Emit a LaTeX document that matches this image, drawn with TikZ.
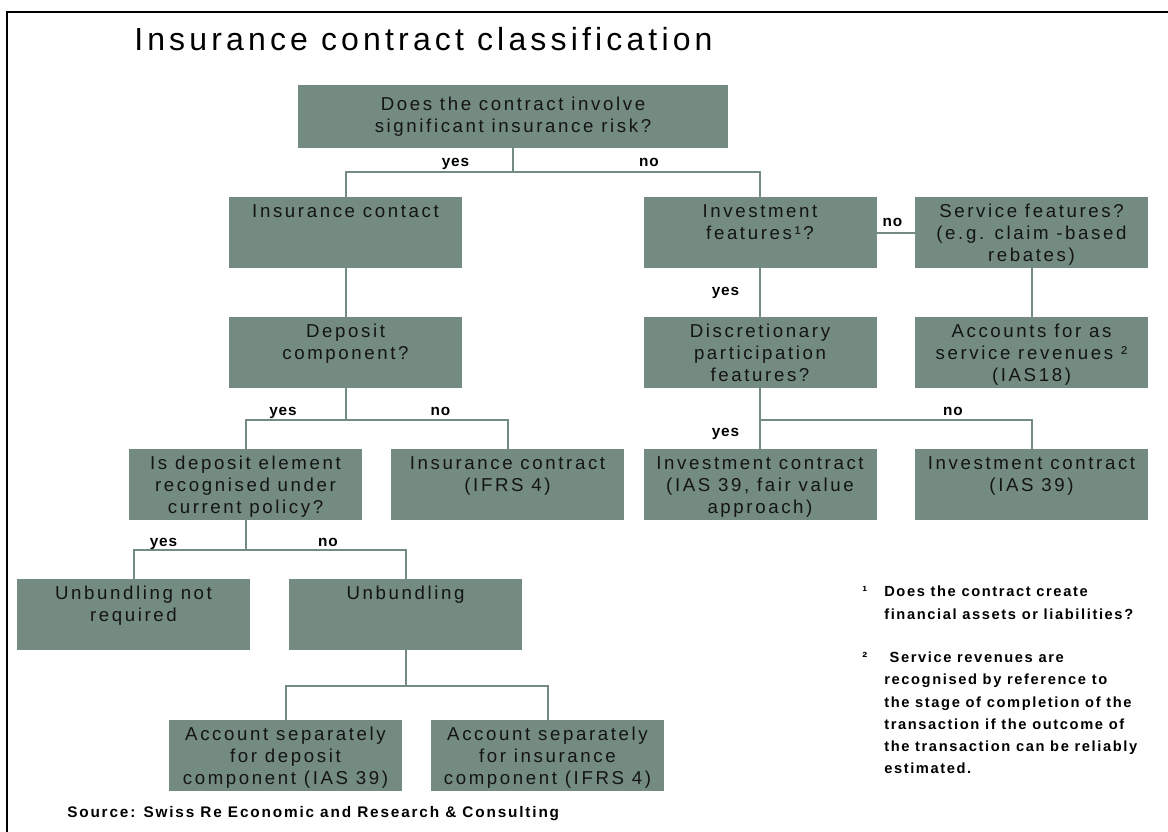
\documentclass[tikz,border=0pt]{standalone}
\usepackage{fontspec}
\usepackage{tikz}
\usetikzlibrary{positioning, calc}
\setmainfont{Liberation Sans}
\newfontfamily\boxfont[LetterSpace=14]{Liberation Sans}
\newfontfamily\titlefont[LetterSpace=13]{Liberation Sans}
\newfontfamily\labelfont[LetterSpace=6]{Liberation Sans}
\newfontfamily\notefont[LetterSpace=11]{Liberation Sans}
\newfontfamily\sourcefont[LetterSpace=12]{Liberation Sans}
\definecolor{sage}{HTML}{738B80}
\definecolor{inkdark}{HTML}{141414}
\tikzset{
  box/.style={fill=sage, minimum width=174.75pt, minimum height=53.25pt, inner sep=0pt, align=center, text=inkdark, font=\boxfont\fontsize{14}{16.5}\selectfont},
  boxtext/.style={anchor=base, inner sep=0pt, align=center, text=inkdark, font=\boxfont\fontsize{14}{16.5}\selectfont},
  link/.style={draw=sage, line width=1.5pt},
  answer/.style={anchor=base, inner sep=0pt, font=\labelfont\bfseries\fontsize{11.5}{13}\selectfont},
  note/.style={anchor=base west, inner sep=0pt, align=left, font=\notefont\bfseries\fontsize{11}{16.6}\selectfont},
}
\begin{document}
\begin{tikzpicture}[x=0.75pt, y=-0.75pt]
  \useasboundingbox (0,0) rectangle (1168,832);
  \draw[line width=1.5pt] (7,832) -- (7,12) -- (1168,12);

  \node[anchor=base west, inner sep=0pt, font=\titlefont\fontsize{24}{28}\selectfont] (title) at (134,50) {Insurance contract classification};

  % decision boxes
  \node[box, minimum width=322.5pt, minimum height=47.25pt] (risk) at (513,116.5) {Does the contract involve\\significant insurance risk?};
  \node[box] (insc) at (345.5,232.5) {};
  \node[box] (inv) at (760,232.5) {};
  \node[box] (serv) at (1031.5,232.5) {};
  \node[box] (dep) at (345.5,352.5) {};
  \node[box] (disc) at (760,352.5) {};
  \node[box] (svcrev) at (1031.5,352.5) {};
  \node[box] (isdep) at (245.5,484.5) {};
  \node[box] (insk) at (507.5,484.5) {};
  \node[box] (invfv) at (760,484.5) {};
  \node[box] (invk) at (1031.5,484.5) {};
  \node[box] (nounb) at (133.5,614.5) {};
  \node[box] (unb) at (405.5,614.5) {};
  \node[box] (sepdep) at (285.5,755.5) {};
  \node[box] (sepins) at (547.5,755.5) {};

  % box texts, last baseline set from the top edge
  \node[boxtext] (insc-t) at ([yshift=-15.5pt]insc.north) {Insurance contact};
  \node[boxtext] (inv-t) at ([yshift=-32pt]inv.north) {Investment\\features¹?};
  \node[boxtext] (serv-t) at ([yshift=-48.5pt]serv.north) {Service features?\\(e.g. claim -based\\rebates)};
  \node[boxtext] (dep-t) at ([yshift=-32pt]dep.north) {Deposit\\component?};
  \node[boxtext] (disc-t) at ([yshift=-48.5pt]disc.north) {Discretionary\\participation\\features?};
  \node[boxtext] (svcrev-t) at ([yshift=-48.5pt]svcrev.north) {Accounts for as\\service revenues ²\\(IAS18)};
  \node[boxtext] (isdep-t) at ([yshift=-48.5pt]isdep.north) {Is deposit element\\recognised under\\current policy?};
  \node[boxtext] (insk-t) at ([yshift=-32pt]insk.north) {Insurance contract\\(IFRS 4)};
  \node[boxtext] (invfv-t) at ([yshift=-48.5pt]invfv.north) {Investment contract\\(IAS 39, fair value\\approach)};
  \node[boxtext] (invk-t) at ([yshift=-32pt]invk.north) {Investment contract\\(IAS 39)};
  \node[boxtext] (nounb-t) at ([yshift=-32pt]nounb.north) {Unbundling not\\required};
  \node[boxtext] (unb-t) at ([yshift=-15.5pt]unb.north) {Unbundling};
  \node[boxtext] (sepdep-t) at ([yshift=-48.5pt]sepdep.north) {Account separately\\for deposit\\component (IAS 39)};
  \node[boxtext] (sepins-t) at ([yshift=-48.5pt]sepins.north) {Account separately\\for insurance\\component (IFRS 4)};

  % branch points
  \coordinate (b-risk) at (513,171.5);
  \coordinate (b-dep) at (345.5,420);
  \coordinate (b-disc) at (760,420);
  \coordinate (b-isdep) at (245.5,549.5);
  \coordinate (b-unb) at (405.5,685.5);

  \draw[link] (risk.south) -- (b-risk);
  \draw[link] (b-risk) -| (insc.north);
  \draw[link] (b-risk) -| (inv.north);
  \draw[link] (inv.east) -- (serv.west);
  \draw[link] (insc.south) -- (dep.north);
  \draw[link] (inv.south) -- (disc.north);
  \draw[link] (serv.south) -- (svcrev.north);
  \draw[link] (dep.south) -- (b-dep);
  \draw[link] (b-dep) -| (isdep.north);
  \draw[link] (b-dep) -| (insk.north);
  \draw[link] (disc.south) -- (invfv.north);
  \draw[link] (b-disc) -| (invk.north);
  \draw[link] (isdep.south) -- (b-isdep);
  \draw[link] (b-isdep) -| (nounb.north);
  \draw[link] (b-isdep) -| (unb.north);
  \draw[link] (unb.south) -- (b-unb);
  \draw[link] (b-unb) -| (sepdep.north);
  \draw[link] (b-unb) -| (sepins.north);

  % answers
  \node[answer] (a-risk-yes) at (455.5,166.5) {yes};
  \node[answer] (a-risk-no) at (649,166.5) {no};
  \node[answer] (a-inv-no) at (892.5,226.5) {no};
  \node[answer] (a-inv-yes) at (725.5,295.5) {yes};
  \node[answer] (a-dep-yes) at (283,415.5) {yes};
  \node[answer] (a-dep-no) at (440.5,415.5) {no};
  \node[answer] (a-disc-no) at (953,415.5) {no};
  \node[answer] (a-disc-yes) at (725.5,436) {yes};
  \node[answer] (a-isdep-yes) at (163.5,546) {yes};
  \node[answer] (a-isdep-no) at (328,546) {no};

  % footnotes and source
  \node[note] (fn1-m) at (862,596.5) {¹};
  \node[note] (fn1) at (884,619) {Does the contract create\\financial assets or liabilities?};
  \node[note] (fn2-m) at (862,662.5) {²};
  \node[note] (fn2) at (884,773.5) {\hspace{4pt}Service revenues are\\recognised by reference to\\the stage of completion of the\\transaction if the outcome of\\the transaction can be reliably\\estimated.};
  \node[note, font=\sourcefont\bfseries\fontsize{11.5}{13}\selectfont] (source) at (67,817.5) {Source: Swiss Re Economic and Research \& Consulting};
\end{tikzpicture}
\end{document}
